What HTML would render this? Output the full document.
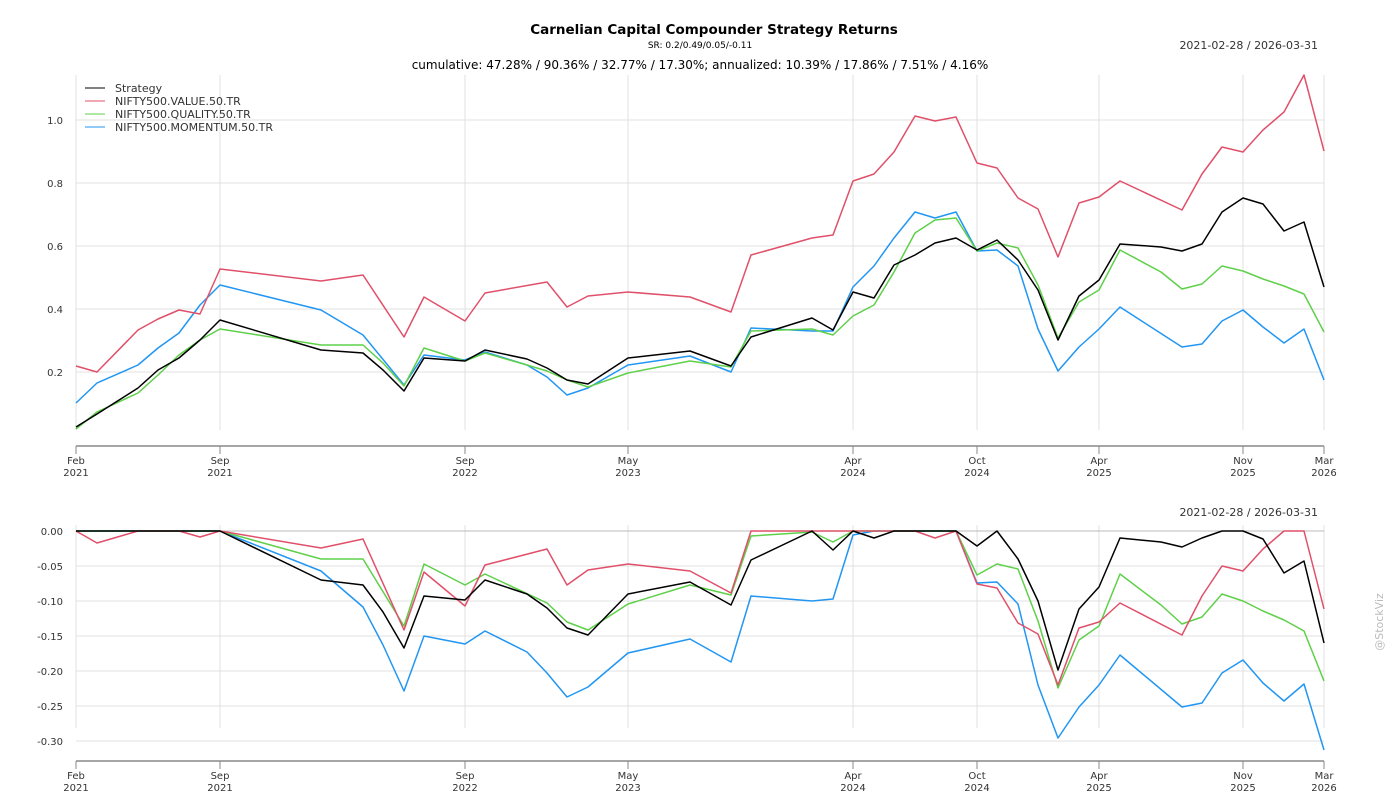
<!DOCTYPE html><html><head><style>body{margin:0;background:#fff}svg text{font-family:"DejaVu Sans","Liberation Sans",sans-serif;fill:#333}</style></head><body>
<svg width="1400" height="800" viewBox="0 0 1400 800" xmlns="http://www.w3.org/2000/svg">
<text x="714" y="34" font-size="13.5" font-weight="bold" text-anchor="middle" fill="#000" style="fill:#000">Carnelian Capital Compounder Strategy Returns</text>
<text x="700" y="48" font-size="9" text-anchor="middle" style="fill:#000">SR: 0.2/0.49/0.05/-0.11</text>
<text x="1318" y="49" font-size="11" text-anchor="end">2021-02-28 / 2026-03-31</text>
<text x="700" y="69" font-size="12" text-anchor="middle" style="fill:#000">cumulative: 47.28% / 90.36% / 32.77% / 17.30%; annualized: 10.39% / 17.86% / 7.51% / 4.16%</text>
<text x="1318" y="516" font-size="11" text-anchor="end">2021-02-28 / 2026-03-31</text>
<text x="1383" y="622" font-size="11" text-anchor="middle" transform="rotate(-90 1383 622)" style="fill:#bbb">@StockViz</text>
<g stroke="#e0e0e0" stroke-width="1">
<line x1="76" y1="75" x2="76" y2="430"/><line x1="220" y1="75" x2="220" y2="430"/><line x1="465" y1="75" x2="465" y2="430"/><line x1="628" y1="75" x2="628" y2="430"/><line x1="853" y1="75" x2="853" y2="430"/><line x1="977" y1="75" x2="977" y2="430"/><line x1="1099" y1="75" x2="1099" y2="430"/><line x1="1243" y1="75" x2="1243" y2="430"/><line x1="1324" y1="75" x2="1324" y2="430"/>
<line x1="76" y1="120" x2="1324" y2="120"/><line x1="76" y1="183" x2="1324" y2="183"/><line x1="76" y1="246" x2="1324" y2="246"/><line x1="76" y1="309" x2="1324" y2="309"/><line x1="76" y1="372" x2="1324" y2="372"/>
<line x1="76" y1="525" x2="76" y2="728"/><line x1="220" y1="525" x2="220" y2="728"/><line x1="465" y1="525" x2="465" y2="728"/><line x1="628" y1="525" x2="628" y2="728"/><line x1="853" y1="525" x2="853" y2="728"/><line x1="977" y1="525" x2="977" y2="728"/><line x1="1099" y1="525" x2="1099" y2="728"/><line x1="1243" y1="525" x2="1243" y2="728"/><line x1="1324" y1="525" x2="1324" y2="728"/>
<line x1="76" y1="566" x2="1324" y2="566"/><line x1="76" y1="601" x2="1324" y2="601"/><line x1="76" y1="636" x2="1324" y2="636"/><line x1="76" y1="671" x2="1324" y2="671"/><line x1="76" y1="706" x2="1324" y2="706"/><line x1="76" y1="741" x2="1324" y2="741"/>
</g>
<line x1="76" y1="531" x2="1324" y2="531" stroke="#bbb"/>
<g stroke="#888" stroke-width="1.5"><line x1="76" y1="446" x2="1324" y2="446"/><line x1="76" y1="761" x2="1324" y2="761"/></g>
<g stroke="#888" stroke-width="1">
<path d="M76 446v8M220 446v8M465 446v8M628 446v8M853 446v8M977 446v8M1099 446v8M1243 446v8M1324 446v8M76 761v8M220 761v8M465 761v8M628 761v8M853 761v8M977 761v8M1099 761v8M1243 761v8M1324 761v8"/>
</g>
<g font-size="10" text-anchor="end">
<text x="63" y="124">1.0</text><text x="63" y="187">0.8</text><text x="63" y="250">0.6</text><text x="63" y="313">0.4</text><text x="63" y="376">0.2</text>
<text x="63" y="535">0.00</text><text x="63" y="570">-0.05</text><text x="63" y="605">-0.10</text><text x="63" y="640">-0.15</text><text x="63" y="675">-0.20</text><text x="63" y="710">-0.25</text><text x="63" y="745">-0.30</text>
</g>
<g font-size="10" text-anchor="middle">
<text x="76" y="464">Feb</text><text x="76" y="476">2021</text><text x="220" y="464">Sep</text><text x="220" y="476">2021</text><text x="465" y="464">Sep</text><text x="465" y="476">2022</text><text x="628" y="464">May</text><text x="628" y="476">2023</text><text x="853" y="464">Apr</text><text x="853" y="476">2024</text><text x="977" y="464">Oct</text><text x="977" y="476">2024</text><text x="1099" y="464">Apr</text><text x="1099" y="476">2025</text><text x="1243" y="464">Nov</text><text x="1243" y="476">2025</text><text x="1324" y="464">Mar</text><text x="1324" y="476">2026</text>
<text x="76" y="779">Feb</text><text x="76" y="791">2021</text><text x="220" y="779">Sep</text><text x="220" y="791">2021</text><text x="465" y="779">Sep</text><text x="465" y="791">2022</text><text x="628" y="779">May</text><text x="628" y="791">2023</text><text x="853" y="779">Apr</text><text x="853" y="791">2024</text><text x="977" y="779">Oct</text><text x="977" y="791">2024</text><text x="1099" y="779">Apr</text><text x="1099" y="791">2025</text><text x="1243" y="779">Nov</text><text x="1243" y="791">2025</text><text x="1324" y="779">Mar</text><text x="1324" y="791">2026</text>
</g>
<g fill="none" stroke-width="1.5" stroke-linejoin="round">
<polyline stroke="#2196f3" points="76,403 97,383 138,365 158,348 179,333 200,305 220,285 321,310 363,335 404,385 424,355 465,360 485,352 527,365 547,377 567,395 588,388 628,365 690,356 731,372 751,328 812,331 833,331 853,287 874,266 894,238 915,212 935,218 956,212 977,251 997,250 1018,266 1038,329 1058,371 1079,347 1099,329 1120,307 1182,347 1202,344 1222,321 1243,310 1263,327 1284,343 1304,329 1324,380"/>
<polyline stroke="#5fd04a" points="76,429 97,412 138,393 158,375 179,355 200,340 220,329 321,345 363,345 383,363 404,386 424,348 465,361 485,353 527,365 547,371 567,380 588,387 628,373 690,361 731,367 751,331 812,329 833,335 853,316 874,305 894,272 915,233 935,220 956,218 977,251 997,243 1018,248 1038,285 1058,338 1079,302 1099,290 1120,250 1161,272 1182,289 1202,284 1222,266 1243,271 1263,279 1284,286 1304,294 1324,332"/>
<polyline stroke="#e0506a" points="76,366 97,372 138,330 158,319 179,310 200,314 220,269 321,281 363,275 404,337 424,297 465,321 485,293 547,282 567,307 588,296 628,292 690,297 731,312 751,255 812,238 833,235 853,181 874,174 894,152 915,116 935,121 956,117 977,163 997,168 1018,198 1038,209 1058,257 1079,203 1099,197 1120,181 1182,210 1202,174 1222,147 1243,152 1263,130 1284,112 1304,75 1324,151"/>
<polyline stroke="#000" points="76,427 97,414 138,388 158,370 179,358 200,340 220,320 321,350 363,353 383,370 404,391 424,358 465,361 485,350 527,359 547,368 567,380 588,384 628,358 690,351 731,366 751,337 812,318 833,330 853,292 874,298 894,265 915,255 935,243 956,238 977,250 997,240 1018,260 1038,290 1058,340 1079,296 1099,280 1120,244 1161,247 1182,251 1202,244 1222,212 1243,198 1263,204 1284,231 1304,222 1324,287"/>
<polyline stroke="#2196f3" points="76,531 220,531 321,571 363,607 383,645 404,691 424,636 465,644 485,631 527,652 547,673 567,697 588,687 628,653 690,639 731,662 751,596 812,601 833,599 853,535 874,531 935,531 956,531 977,583 997,582 1018,604 1038,685 1058,738 1079,707 1099,685 1120,655 1182,707 1202,703 1222,673 1243,660 1263,683 1284,701 1304,684 1324,750"/>
<polyline stroke="#5fd04a" points="76,531 220,531 321,559 363,559 404,626 424,564 465,585 485,574 547,603 567,622 588,630 628,604 690,585 731,595 751,536 812,532 833,542 853,531 935,531 956,531 977,575 997,564 1018,569 1038,621 1058,688 1079,640 1099,626 1120,574 1161,605 1182,624 1202,617 1222,594 1243,601 1263,611 1284,620 1304,631 1324,681"/>
<polyline stroke="#e0506a" points="76,531 97,543 138,531 179,531 200,537 220,531 321,548 363,539 404,630 424,572 465,606 485,565 547,549 567,585 588,570 628,564 690,571 731,593 751,531 812,531 833,531 853,531 915,531 935,538 956,531 977,584 997,588 1018,623 1038,634 1058,685 1079,628 1099,622 1120,603 1182,635 1202,596 1222,566 1243,571 1263,549 1284,531 1304,531 1324,609"/>
<polyline stroke="#000" points="76,531 220,531 321,580 363,585 383,612 404,648 424,596 465,600 485,580 527,594 547,608 567,628 588,635 628,594 690,582 731,605 751,560 812,531 833,550 853,531 874,538 894,531 935,531 956,531 977,546 997,531 1018,559 1038,601 1058,670 1079,609 1099,587 1120,538 1161,542 1182,547 1202,538 1222,531 1243,531 1263,539 1284,573 1304,561 1324,643"/>
</g>
<g stroke-width="1">
<line x1="85" y1="88" x2="105" y2="88" stroke="#000"/><line x1="85" y1="101" x2="105" y2="101" stroke="#e0506a"/><line x1="85" y1="114" x2="105" y2="114" stroke="#5fd04a"/><line x1="85" y1="127" x2="105" y2="127" stroke="#2196f3"/>
</g>
<g font-size="11">
<text x="115" y="92">Strategy</text><text x="115" y="105">NIFTY500.VALUE.50.TR</text><text x="115" y="118">NIFTY500.QUALITY.50.TR</text><text x="115" y="131">NIFTY500.MOMENTUM.50.TR</text>
</g>
</svg></body></html>
